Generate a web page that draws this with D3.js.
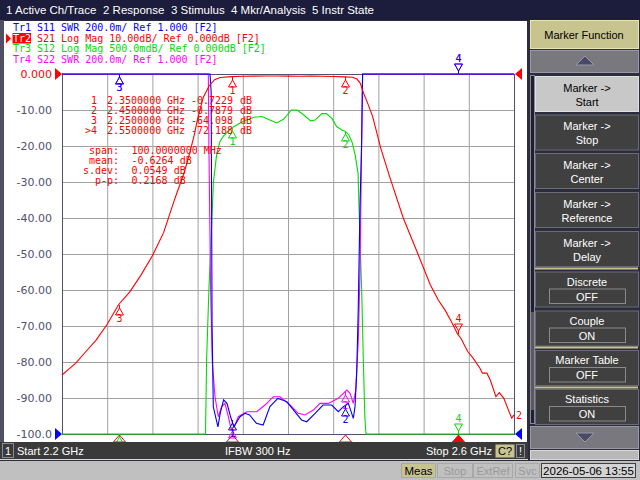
<!DOCTYPE html>
<html>
<head>
<meta charset="utf-8">
<script src="https://cdn.jsdelivr.net/npm/d3@7"></script>
<style>
body { margin: 0; background: #c0c0c0; }
svg { display: block; }
text { font-family: "Liberation Sans", Arial, sans-serif; font-size: 11px; }
.mono { font-family: "DejaVu Sans Mono", monospace; font-size: 10px; }
</style>
</head>
<body>
<svg id="chart" width="640" height="480"></svg>
<script>
// ---- values ----
const menuItems = ["1 Active Ch/Trace", "2 Response", "3 Stimulus", "4 Mkr/Analysis", "5 Instr State"];

const traceNames = ["Tr1", "Tr2", "Tr3", "Tr4"];
const traceInfo = [" S11 SWR 200.0m/ Ref 1.000 [F2]",
                   " S21 Log Mag 10.00dB/ Ref 0.000dB [F2]",
                   " S12 Log Mag 500.0mdB/ Ref 0.000dB [F2]",
                   " S22 SWR 200.0m/ Ref 1.000 [F2]"];

// frequency axis, MHz
const freqRange = [2200, 2600];
const freqGrid = [2240, 2280, 2320, 2360, 2400, 2440, 2480, 2520, 2560];

// Tr2 scale (dB) and the left axis labels
const dbRange = [-100, 0];
const dbTicks = [0, -10, -20, -30, -40, -50, -60, -70, -80, -90, -100];
const dbTickLabels = ["0.000", "-10.00", "-20.00", "-30.00", "-40.00", "-50.00", "-60.00", "-70.00", "-80.00", "-90.00", "-100.0"];
const s12Range = [-5, 0];   // Tr3, 0.5 dB/div
const swrRange = [1, 3];    // Tr1 / Tr4, 0.2/div

// Tr2 S21
const s21Freq = [2200, 2206, 2212, 2220, 2230, 2240, 2250, 2260, 2270, 2280, 2290, 2300, 2308, 2313, 2317, 2320,
  2325, 2330, 2335, 2340, 2350, 2360, 2370, 2380, 2390, 2400, 2410, 2420, 2430, 2440, 2450, 2457, 2461, 2464,
  2467, 2471, 2475, 2482, 2490, 2502, 2515, 2526, 2533, 2539, 2545, 2550, 2553, 2559, 2564, 2570, 2572, 2576,
  2579, 2584, 2587, 2591, 2595, 2598, 2600];
const s21Db = [-83.6, -82.0, -80.4, -77.5, -74.0, -69.5, -64.1, -60.5, -55.8, -50.5, -44.0, -34.5, -27.5, -22.0, -17.0, -12.5,
  -6.5, -3.4, -1.6, -0.95, -0.72, -0.62, -0.58, -0.55, -0.57, -0.60, -0.62, -0.60, -0.63, -0.68, -0.79, -0.90, -1.4, -2.6,
  -5.4, -8.5, -11.9, -20.5, -28.6, -40.0, -50.0, -58.6, -62.8, -65.6, -69.0, -72.19, -73.4, -77.1, -79.0, -81.8, -83.1, -83.1,
  -85.0, -89.6, -88.5, -90.1, -93.3, -95.6, -94.7];

// Tr3 S12 (off the bottom of its 0.5 dB/div scale outside the band)
const s12Freq = [2200, 2327, 2328, 2330, 2332.5, 2334, 2337, 2340, 2343, 2350, 2360, 2370, 2377, 2384, 2390, 2396,
  2403, 2408, 2414, 2420, 2424, 2430, 2434, 2439, 2443, 2448, 2451, 2454, 2457, 2459.5, 2462, 2463.7, 2465.2,
  2466.6, 2468, 2469, 2600];
const s12Db = [-7, -7, -3.95, -3.0, -2.07, -1.5, -1.1, -0.93, -0.86, -0.75, -0.66, -0.60, -0.59, -0.64, -0.68, -0.63,
  -0.50, -0.50, -0.57, -0.65, -0.64, -0.55, -0.55, -0.62, -0.73, -0.78, -0.80, -0.85, -0.96, -1.13, -1.38, -2.31, -3.0,
  -3.93, -4.76, -7, -7];

// Tr1 S11 SWR (off the top outside the band)
const s11Freq = [2200, 2331, 2332, 2332.8, 2333.9, 2338, 2340, 2343, 2346, 2349, 2352, 2354, 2357.5, 2362, 2366,
  2372, 2378, 2384, 2391, 2399, 2406, 2412, 2416.5, 2424, 2431, 2438.7, 2444.5, 2449, 2453.4, 2457.8, 2459.3,
  2460.8, 2462.2, 2463.7, 2465.2, 2466, 2600];
const s11Swr = [9, 9, 2.9, 1.6, 1.15, 1.04, 1.115, 1.19, 1.17, 1.10, 1.04, 1.06, 1.096, 1.115, 1.106,
  1.06, 1.05, 1.152, 1.198, 1.18, 1.124, 1.078, 1.068, 1.115, 1.161, 1.161, 1.124, 1.152, 1.17, 1.087, 1.152,
  1.337, 1.707, 2.26, 2.63, 9, 9];

// Tr4 S22 SWR
const s22Freq = [2200, 2329.5, 2330, 2331.5, 2333, 2335.4, 2338.3, 2341.3, 2344.2, 2347.2, 2349.6, 2352.5, 2356,
  2363.5, 2372.3, 2379.6, 2387, 2392.9, 2401.8, 2409.1, 2415, 2422.4, 2428.3, 2435.7, 2444.5, 2452, 2454.9,
  2457.8, 2459.9, 2462.2, 2463.7, 2465.2, 2466, 2600];
const s22Swr = [9, 9, 2.6, 1.8, 1.4, 1.207, 1.096, 1.152, 1.17, 1.096, 1.03, 1.04, 1.096,
  1.124, 1.124, 1.161, 1.207, 1.207, 1.161, 1.115, 1.106, 1.133, 1.17, 1.17, 1.198, 1.244, 1.226,
  1.17, 1.244, 1.52, 1.89, 2.63, 9, 9];

// markers (active one is 4)
const markerLabels = ["1", "2", "3", "4"];
const markerFreq = [2350, 2450, 2250, 2550];
const markerDb = [-0.7229, -0.7879, -64.098, -72.188];
const markerRows = ["1", "2", "3", ">4"];
const markerFreqText = ["2.3500000", "2.4500000", "2.2500000", "2.5500000"];
const markerValText = ["-0.7229", "-0.7879", "-64.098", "-72.188"];
const statLabels = ["span:", "mean:", "s.dev:", "p-p:"];
const statValues = ["100.0000000 MHz", "-0.6264 dB", "0.0549 dB", "0.2168 dB"];

const softkeys = [["Marker ->", "Start"], ["Marker ->", "Stop"], ["Marker ->", "Center"], ["Marker ->", "Reference"],
  ["Marker ->", "Delay"], ["Discrete", "OFF"], ["Couple", "ON"], ["Marker Table", "OFF"], ["Statistics", "ON"]];
const statusBoxes = ["Meas", "Stop", "ExtRef", "Svc", "2026-05-06 13:55"];

const RED = "#ff0000", BLUE = "#0000ff", GREEN = "#00dd00", MAGENTA = "#ff00ff";

const svg = d3.select("#chart");

// ---- window background ----
svg.append("rect").attr("width", 640).attr("height", 480).attr("fill", "#c0c0c0");
svg.append("rect").attr("y", 20).attr("width", 640).attr("height", 441).attr("fill", "#2c2c3c");
svg.append("rect").attr("y", 20).attr("width", 4).attr("height", 423).attr("fill", "#505064");
svg.append("rect").attr("x", 4).attr("y", 21).attr("width", 523).attr("height", 421).attr("fill", "#ffffff");

// ---- plot ----
const x = d3.scaleLinear().domain(freqRange).range([62, 514]);
const yDb = d3.scaleLinear().domain(dbRange).range([434, 74]).clamp(true);
const yS12 = d3.scaleLinear().domain(s12Range).range([434, 74]).clamp(true);
const ySwr = d3.scaleLinear().domain(swrRange).range([434, 74]).clamp(true);

const plot = svg.append("g");

plot.append("g")
    .attr("transform", "translate(0,434)")
    .call(d3.axisBottom(x).tickValues(freqGrid).tickSize(-360).tickFormat(""))
    .call(g => g.select(".domain").remove())
    .call(g => g.selectAll("line").attr("stroke", "#a0a0a0"));

plot.append("g")
    .attr("transform", "translate(62,0)")
    .call(d3.axisLeft(yDb).tickValues(dbTicks).tickSize(-452).tickPadding(10)
      .tickFormat((d, i) => dbTickLabels[i]))
    .call(g => g.select(".domain").remove())
    .call(g => g.selectAll("line").attr("stroke", "#a0a0a0"))
    .call(g => g.selectAll("text")
      .style("font-family", "DejaVu Sans, sans-serif").style("font-size", "11px")
      .attr("fill", (d, i) => i === 0 ? RED : "#505070"));

plot.append("rect").attr("x", 62.5).attr("y", 74.5).attr("width", 452).attr("height", 360)
    .attr("fill", "none").attr("stroke", "#505070");

function valueAt(fs, vs, f) {
  const i = d3.bisectLeft(fs, f);
  if (i <= 0) return vs[0];
  if (i >= fs.length) return vs[vs.length - 1];
  const t = (f - fs[i - 1]) / (fs[i] - fs[i - 1]);
  return vs[i - 1] + t * (vs[i] - vs[i - 1]);
}

function drawMarker(cx, cy, label, color, active) {
  const g = plot.append("g").attr("fill", "none").attr("stroke", color);
  if (active) {
    g.append("path").attr("d", `M${cx},${cy}V${cy - 3}M${cx},${cy - 3}L${cx - 4},${cy - 10}H${cx + 4}Z`);
    plot.append("text").attr("class", "mono").attr("x", cx).attr("y", cy - 12)
        .attr("text-anchor", "middle").attr("fill", color).text(label);
  } else {
    g.append("path").attr("d", `M${cx},${cy}V${cy + 3}M${cx},${cy + 3}L${cx - 4},${cy + 10}H${cx + 4}Z`);
    // the number is not shown when it would fall below the grid
    if (cy + 17 <= 441) {
      plot.append("text").attr("class", "mono").attr("x", cx).attr("y", cy + 17)
          .attr("text-anchor", "middle").attr("fill", color).text(label);
    }
  }
}

function drawTrace(fs, vs, yScale, color) {
  plot.append("path")
      .datum(d3.zip(fs, vs))
      .attr("fill", "none").attr("stroke", color).attr("stroke-width", 1.1)
      .attr("d", d3.line().x(d => x(d[0])).y(d => yScale(d[1])));
  markerFreq.forEach((f, i) => {
    drawMarker(Math.round(x(f)) + 0.5, Math.round(yScale(valueAt(fs, vs, f))), markerLabels[i], color, i === 3);
  });
}

drawTrace(s12Freq, s12Db, yS12, GREEN);
drawTrace(s22Freq, s22Swr, ySwr, MAGENTA);
drawTrace(s11Freq, s11Swr, ySwr, BLUE);

// active trace S21 on top, markers from the readout values
plot.append("path")
    .datum(d3.zip(s21Freq, s21Db))
    .attr("fill", "none").attr("stroke", RED).attr("stroke-width", 1.1)
    .attr("d", d3.line().x(d => x(d[0])).y(d => yDb(d[1])));
markerFreq.forEach((f, i) => {
  drawMarker(Math.round(x(f)) + 0.5, Math.round(yDb(markerDb[i])), markerLabels[i], RED, i === 3);
});
plot.append("text").attr("class", "mono").attr("x", 516).attr("y", 419).attr("fill", RED).text("2");

// stimulus markers under the grid
markerFreq.forEach((f, i) => {
  const cx = Math.round(x(f)) + 0.5;
  plot.append("path").attr("d", `M${cx},435L${cx - 6},442H${cx + 6}Z`)
      .attr("fill", i === 3 ? RED : "none").attr("stroke", RED);
});

// reference position arrows
plot.append("path").attr("d", "M55,68L62,74L55,80Z").attr("fill", RED);
plot.append("path").attr("d", "M55,428L62,434L55,440Z").attr("fill", BLUE);
plot.append("path").attr("d", "M522,68L515,74L522,80Z").attr("fill", RED);
plot.append("path").attr("d", "M522,428L515,434L522,440Z").attr("fill", BLUE);

// ---- trace legend ----
const legendColors = [BLUE, RED, GREEN, MAGENTA];
const legendY = [31, 41.5, 52, 62.5];
svg.append("rect").attr("x", 12.5).attr("y", 33).attr("width", 18.5).attr("height", 10.5).attr("fill", RED);
svg.append("path").attr("d", "M6,33.5L11,38.5L6,43.5Z").attr("fill", RED);
traceNames.forEach((n, i) => {
  svg.append("text").attr("class", "mono").attr("x", 13).attr("y", legendY[i])
      .attr("fill", i === 1 ? "#ffffff" : legendColors[i]).text(n);
  svg.append("text").attr("class", "mono").attr("x", 31).attr("y", legendY[i])
      .attr("fill", legendColors[i]).attr("xml:space", "preserve").text(traceInfo[i]);
});

// ---- marker readout and statistics ----
markerRows.forEach((r, i) => {
  const yy = 104 + i * 10;
  const t = (xx, s, anchor) => svg.append("text").attr("class", "mono").attr("x", xx).attr("y", yy)
      .attr("text-anchor", anchor || "start").attr("fill", RED).text(s);
  t(97, r, "end");
  t(107, markerFreqText[i]);
  t(167, "GHz");
  t(191, markerValText[i]);
  t(240, "dB");
});
statLabels.forEach((s, i) => {
  const yy = 153.5 + i * 10;
  svg.append("text").attr("class", "mono").attr("x", 119).attr("y", yy).attr("text-anchor", "end")
      .attr("fill", RED).text(s);
  svg.append("text").attr("class", "mono").attr("x", 131.5).attr("y", yy).attr("fill", RED).text(statValues[i]);
});

// ---- top menu bar ----
svg.append("rect").attr("width", 640).attr("height", 20).attr("fill", "#1c1c3c");
const menuX = [6, 103, 171, 231, 312];
menuItems.forEach((m, i) => {
  svg.append("text").attr("x", menuX[i]).attr("y", 14).attr("fill", "#ffffff").style("font-size", "11.5px").text(m);
});

// ---- status bar ----
svg.append("rect").attr("y", 442).attr("width", 528).attr("height", 17).attr("fill", "#3a3a3a");
svg.append("rect").attr("x", 2.5).attr("y", 443.5).attr("width", 11).attr("height", 14)
    .attr("fill", "#3a3a3a").attr("stroke", "#8a8a9a");
svg.append("text").attr("x", 8).attr("y", 455).attr("text-anchor", "middle").attr("fill", "#fff").text("1");
svg.append("text").attr("x", 17).attr("y", 455).attr("fill", "#fff").text("Start 2.2 GHz");
svg.append("text").attr("x", 225).attr("y", 455).attr("fill", "#fff").text("IFBW 300 Hz");
svg.append("text").attr("x", 492).attr("y", 455).attr("text-anchor", "end").attr("fill", "#fff").text("Stop 2.6 GHz");
svg.append("rect").attr("x", 495.5).attr("y", 444.5).attr("width", 19).attr("height", 13).attr("fill", "#c8c490");
svg.append("text").attr("x", 505).attr("y", 455).attr("text-anchor", "middle").attr("fill", "#000").text("C?");
svg.append("rect").attr("x", 516.5).attr("y", 444.5).attr("width", 8).attr("height", 13)
    .attr("fill", "#3a3a3a").attr("stroke", "#8a8a9a");
svg.append("text").attr("x", 520.5).attr("y", 455).attr("text-anchor", "middle").attr("fill", "#fff").text("!");
svg.append("line").attr("x1", 0).attr("x2", 528).attr("y1", 459.5).attr("y2", 459.5).attr("stroke", "#d8d8d8");

// bottom line boxes
const boxX = [401.5, 437.5, 473.5, 515.5, 541.5];
const boxW = [34, 35, 39, 24, 94];
statusBoxes.forEach((s, i) => {
  const first = i === 0, last = i === statusBoxes.length - 1;
  svg.append("rect").attr("x", boxX[i]).attr("y", 463.5).attr("width", boxW[i]).attr("height", 14)
      .attr("fill", first ? "#c8c490" : (last ? "#d4d4d4" : "#c0c0c0"))
      .attr("stroke", last ? "#404040" : "#a8a8a8");
  svg.append("text").attr("x", boxX[i] + boxW[i] / 2).attr("y", 475).attr("text-anchor", "middle")
      .attr("fill", first || last ? "#000" : "#9a9a9a").style("font-size", first || last ? "11.5px" : "11px").text(s);
});

// ---- right soft key panel ----
svg.append("rect").attr("x", 530.5).attr("y", 20.5).attr("width", 108).attr("height", 28)
    .attr("fill", "#c8c490").attr("stroke", "#e8e4b8");
svg.append("text").attr("x", 584).attr("y", 39).attr("text-anchor", "middle").attr("fill", "#000").text("Marker Function");

function arrowButton(y0, up) {
  svg.append("rect").attr("x", 530.5).attr("y", y0 + 0.5).attr("width", 108).attr("height", 22)
      .attr("fill", "#78787e").attr("stroke", "#9a9aa4");
  const c = y0 + 11;
  svg.append("path").attr("d", up ? `M576,${c + 4}L585,${c - 5}L594,${c + 4}Z` : `M576,${c - 4}L585,${c + 5}L594,${c - 4}Z`)
      .attr("fill", "#4a4a68").attr("stroke", "#9898a8");
}
arrowButton(50, true);
arrowButton(426, false);
svg.append("rect").attr("x", 530.5).attr("y", 450.5).attr("width", 108).attr("height", 9)
    .attr("fill", "#b8b8b8").attr("stroke", "#d8d8d8");

// scroll strip
svg.append("rect").attr("x", 530.5).attr("y", 75.5).attr("width", 4).attr("height", 348)
    .attr("fill", "#20202c").attr("stroke", "#8888a0");
svg.append("rect").attr("x", 531).attr("y", 312).attr("width", 3).attr("height", 98).attr("fill", "#5a5a5a");

const keyTop = [76, 114.5, 153, 192, 231, 271.5, 310.5, 350, 389];
softkeys.forEach((k, i) => {
  const top = keyTop[i];
  const selected = i === 0;
  svg.append("rect").attr("x", 535.5).attr("y", top + 0.5).attr("width", 103).attr("height", 35)
      .attr("fill", selected ? "#c8c8c8" : "#404040").attr("stroke", selected ? "#e0e0e0" : "#6a6a78");
  const col = selected ? "#000" : "#fff";
  if (i < 5) {
    svg.append("text").attr("x", 587).attr("y", top + 15.5).attr("text-anchor", "middle").attr("fill", col).text(k[0]);
    svg.append("text").attr("x", 587).attr("y", top + 29.5).attr("text-anchor", "middle").attr("fill", col).text(k[1]);
  } else {
    svg.append("text").attr("x", 587).attr("y", top + 14).attr("text-anchor", "middle").attr("fill", col).text(k[0]);
    svg.append("rect").attr("x", 549.5).attr("y", top + 17.5).attr("width", 76).attr("height", 14.5)
        .attr("fill", "#404040").attr("stroke", "#8a8a8a");
    svg.append("text").attr("x", 587).attr("y", top + 29).attr("text-anchor", "middle").attr("fill", col).text(k[1]);
  }
});
// khaki separators between key groups
[268.5, 347.5, 387.5].forEach(yy => {
  svg.append("line").attr("x1", 535).attr("x2", 638).attr("y1", yy).attr("y2", yy)
      .attr("stroke", "#c8c490").attr("stroke-width", 2);
});
</script>
</body>
</html>
